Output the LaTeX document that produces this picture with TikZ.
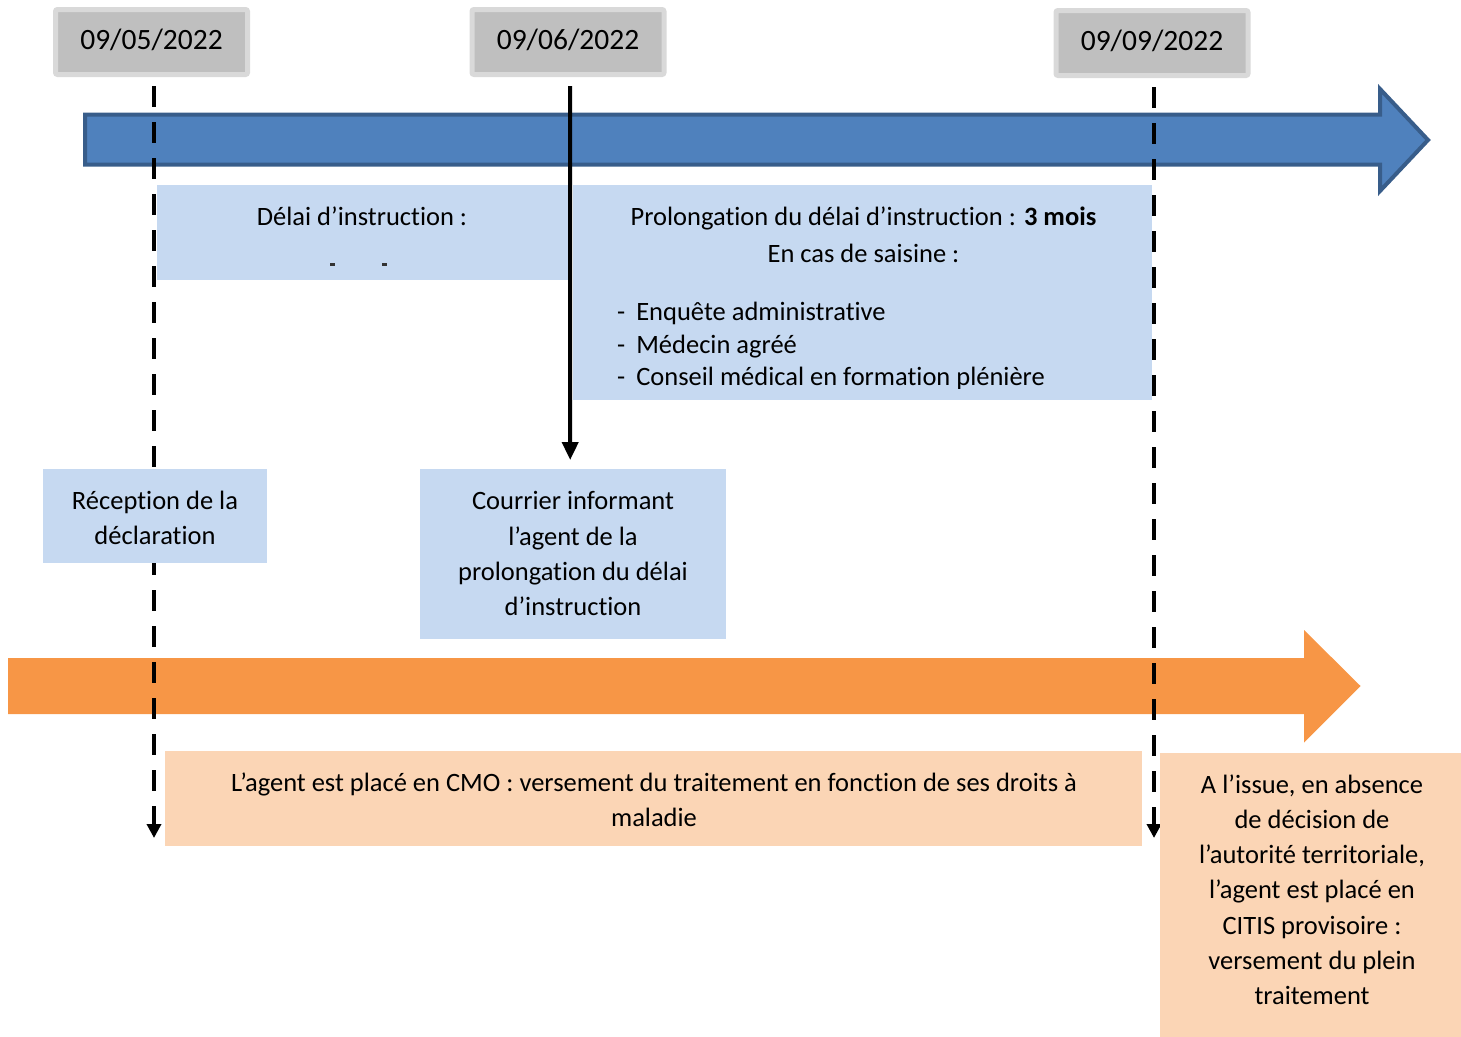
\documentclass[tikz,border=0pt]{standalone}
\usepackage{fontspec}
\setmainfont{Carlito}[Ligatures=NoCommon]
\usetikzlibrary{arrows.meta,calc}
\definecolor{bluefill}{HTML}{4F81BD}
\definecolor{blueline}{HTML}{385D8A}
\definecolor{lightblue}{HTML}{C6D9F1}
\definecolor{orangefill}{HTML}{F79646}
\definecolor{peach}{HTML}{FBD5B5}
\definecolor{dategray}{HTML}{BFBFBF}
\definecolor{dateborder}{HTML}{D9D9D9}
\begin{document}
\begin{tikzpicture}[x=1pt,y=-1pt,
  datebox/.style={fill=dategray,draw=dateborder,line width=5pt,rounded corners=2pt,
    minimum width=192pt,minimum height=65pt,inner sep=0pt,text height=18.6pt,text depth=4.6pt,
    font=\fontsize{29.5}{35}\selectfont},
  bluebox/.style={fill=lightblue,draw=none,inner sep=0pt,anchor=north west},
  peachbox/.style={fill=peach,draw=none,inner sep=0pt,anchor=north west},
  txt/.style={font=\fontsize{26.5}{35}\selectfont,inner sep=0pt,anchor=base},
  txtl/.style={font=\fontsize{26.5}{35}\selectfont,inner sep=0pt,anchor=base west},
  dashline/.style={line width=4.5pt,dash pattern=on 21pt off 15pt,-{Triangle[width=14pt,length=14pt]}},
  solidline/.style={line width=4pt,-{Triangle[width=16pt,length=18pt]}},
]
\useasboundingbox (0,0) rectangle (1461,1036);

% timeline arrows
\filldraw[fill=bluefill,draw=blueline,line width=4pt,line join=miter]
  (85,114.5) -- (1380,114.5) -- (1380,89) -- (1428,140) -- (1380,191) -- (1380,164.5) -- (85,164.5) -- cycle;
\fill[orangefill] (8,658) -- (1304,658) -- (1304,630) -- (1360.5,686) -- (1304,742.5) -- (1304,714) -- (8,714) -- cycle;

% dates
\node[datebox] (d1) at (151.5,42) {09/05/2022};
\node[datebox] (d2) at (568,42) {09/06/2022};
\node[datebox] (d3) at (1152,43) {09/09/2022};

% courrier box (needed for the solid connector)
\node[bluebox,minimum width=306pt,minimum height=170pt] (cour) at (420,469) {};

% connectors
\coordinate (e1) at (154,838);
\coordinate (e3) at (1154,838);
\draw[dashline] ([xshift=2.5pt,yshift=-9pt]d1.south) -- (e1);
\draw[dashline] ([xshift=2pt,yshift=-9pt]d3.south) -- (e3);
\draw[solidline] ([xshift=2pt,yshift=-9pt]d2.south) -- ([xshift=-3pt,yshift=9pt]cour.north);

% upper boxes
\node[bluebox,minimum width=411pt,minimum height=95pt] (delai) at (157,185) {};
\node[txt] (delaiT) at (362,225) {Délai d’instruction :};
\fill[black!80] (330,263) rectangle (335,265.5);
\fill[black!80] (382,262.5) rectangle (387,265.5);

\node[bluebox,minimum width=579pt,minimum height=215pt] (prol) at (573,185) {};
\node[txt] (prolA) at (863.5,225) {Prolongation du délai d’instruction : \textbf{3 mois}};
\node[txt] (prolB) at (863.5,262) {En cas de saisine :};
\begin{scope}
\clip (573,185) rectangle (1152,388);
\node[txtl] (b1) at (617,320) {-\hspace{11pt}Enquête administrative};
\node[txtl] (b2) at (617,353) {-\hspace{11pt}Médecin agréé};
\node[txtl] (b3) at (617,385) {-\hspace{11pt}Conseil médical en formation plénière};
\end{scope}

% middle boxes
\node[bluebox,minimum width=224pt,minimum height=94pt] (recep) at (43,469) {};
\node[txt] (recepA) at (155,509) {Réception de la};
\node[txt] (recepB) at (155,544) {déclaration};

\node[txt] (courA) at (573,509) {Courrier informant};
\node[txt] (courB) at (573,545) {l’agent de la};
\node[txt] (courC) at (573,580) {prolongation du délai};
\node[txt] (courD) at (573,615) {d’instruction};

% lower boxes
\node[peachbox,minimum width=977pt,minimum height=95pt] (cmo) at (165,751) {};
\node[txt] (cmoA) at (654,791) {L’agent est placé en CMO : versement du traitement en fonction de ses droits à};
\node[txt] (cmoB) at (654,826) {maladie};

\node[peachbox,minimum width=301pt,minimum height=290pt] (citis) at (1160,753) {};
\node[txt] (citA) at (1312,793) {A l’issue, en absence};
\node[txt] (citB) at (1312,828) {de décision de};
\node[txt] (citC) at (1312,863) {l’autorité territoriale,};
\node[txt] (citD) at (1312,898) {l’agent est placé en};
\node[txt] (citE) at (1312,934) {CITIS provisoire :};
\node[txt] (citF) at (1312,969) {versement du plein};
\node[txt] (citG) at (1312,1004) {traitement};
\end{tikzpicture}
\end{document}
